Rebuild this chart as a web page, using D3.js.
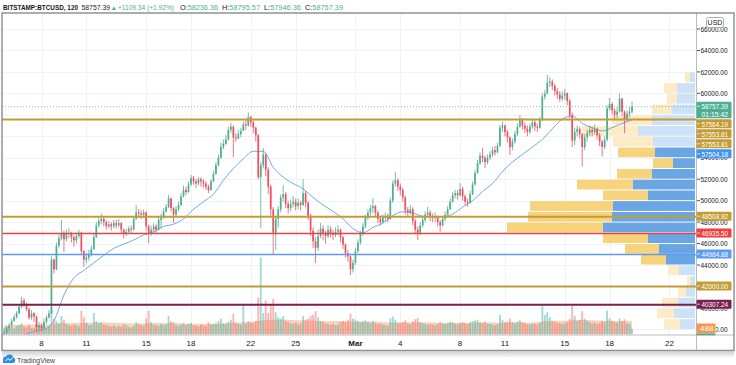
<!DOCTYPE html>
<html><head><meta charset="utf-8">
<script src="https://cdn.jsdelivr.net/npm/d3@7/dist/d3.min.js"></script>
<style>
html,body{margin:0;padding:0;background:#fff;overflow:hidden}
svg{display:block}
text{font-family:"Liberation Sans Narrow","Liberation Sans",Arial,sans-serif}
</style></head><body>
<svg id="chart" width="736" height="365"></svg>
<script>
// ---------------- DATA ----------------
const firstOpen = 37500;
const closes = [
37650,38100,38350,38800,39150,39500,40100,40700,40300,39900,
39100,39500,39200,38200,38400,38100,38700,39100,39500,44500,
43600,45800,46500,47000,46400,46900,47000,46600,46300,46700,
47000,45300,44500,44700,45000,45500,46600,47700,48100,48300,
48000,47600,47800,47600,47900,47700,47900,47300,46900,47100,
47400,47300,48300,48900,48800,48700,48900,47600,47000,47300,
47600,47300,48200,48400,49000,49400,50200,49300,48700,49200,
49600,50400,51000,50800,51500,52100,51800,51600,52000,51800,
51600,51300,51000,51800,52500,53300,54000,55000,55300,55700,
56600,56900,55900,55800,56200,56500,57100,57000,57800,57300,
56800,56100,52200,53300,54300,52900,51300,49200,47000,48300,
49200,50300,50600,49700,49300,49700,49900,49500,49800,49600,
50700,49800,48600,47200,46200,45600,46700,47400,47000,46700,
47300,47000,46800,47100,47300,46600,45900,45100,44800,43600,
44200,45300,46100,46900,47600,48400,48900,49300,49500,48900,
48300,48000,48400,48600,48300,50000,51600,51900,51300,51000,
50300,49100,48900,49200,48100,47300,47000,47700,48200,48700,
48900,48500,48400,48500,48000,47700,48300,48700,49200,49900,
50500,50700,50500,51100,50400,49900,49800,50600,51500,52600,
53500,54200,54000,53600,54000,54300,54700,54500,55100,56800,
57000,56400,55900,55000,55500,56200,56900,57500,57000,56700,
56400,56900,57300,56900,56800,57500,59700,60000,61000,61100,
60700,60200,59900,59500,59800,60000,59300,58000,55600,56400,
56700,56200,55000,55900,56300,56600,56400,56700,56100,55500,
55000,55700,58600,59000,58400,58000,58300,59500,58300,57600,
58100,58300,58757.39];
const highs = [
37900,38250,38600,39000,39400,39700,40300,41050,40900,40500,
40000,39800,39600,39300,38700,38600,39000,39300,39800,44800,
44600,46100,46800,48200,47200,47300,47420,47100,46800,47000,
47300,47100,45400,45100,45400,45800,46900,48000,48400,48820,
48600,48200,48100,48000,48200,48200,48300,48000,47400,47400,
47600,47700,48500,49600,49200,49100,49200,49000,47800,47700,
47900,47800,48500,48800,49300,49700,50530,50300,49400,49500,
49900,50700,51400,51300,51800,52400,52300,52000,52200,52200,
52000,51800,51500,52000,52800,53600,54300,55400,55700,56100,
56900,57240,57000,56300,56600,56800,57400,57500,58230,57900,
57500,56900,56200,53600,54900,54400,53100,51500,49400,48600,
49500,50600,51450,50800,50000,50100,50400,50200,50200,50000,
52000,50900,50000,48800,47500,46600,47300,47900,47700,47200,
47700,47600,47300,47500,47700,47400,46700,46000,45400,44900,
44500,45600,46400,47200,47900,48700,49200,49600,50240,49600,
49100,48600,48700,48900,48800,50300,51900,52700,52100,51600,
51200,50500,49400,49600,49400,48300,47600,48000,48500,49000,
49430,49100,48800,48900,48600,48200,48600,49000,49500,50200,
50800,51000,51000,51640,51300,50600,50200,50900,51800,52900,
53800,54500,54900,54200,54300,54600,55000,55100,55400,57100,
57360,57100,56600,56000,55800,56500,57200,57980,57700,57300,
57000,57200,57600,57500,57200,57800,60000,60300,61710,61500,
61300,60900,60500,60200,60200,60400,60100,59500,58200,56800,
57000,56900,56300,56200,56600,57000,56900,57100,56800,56300,
55700,56000,58900,59570,59200,58600,58700,60000,59600,58400,
58400,58700,59230];
const lows = [
37350,37600,37950,38200,38700,39000,39400,40000,40100,39700,
38900,38900,38700,37780,37900,37800,38000,38500,39000,39400,
43200,43500,45600,46300,45240,46200,46500,46100,45700,46000,
46500,44900,43840,44200,44400,44800,45400,46500,47500,47800,
47600,47300,47400,47200,47400,47400,47500,47000,46490,46700,
46900,47000,47200,48200,48400,48300,48400,47200,46020,46700,
47000,47000,47200,47400,48300,48900,49300,49000,47900,48500,
49000,49500,50300,50500,50700,51400,51500,51200,51400,51300,
51200,51000,50700,50900,51700,52400,53200,53900,54800,55200,
55600,56300,54070,55500,55700,55900,56500,56600,56900,56900,
56300,55500,52000,47450,53000,52300,50600,48600,44930,45400,
47500,48900,49900,49300,48800,49000,49400,49100,49200,49100,
49500,49400,48200,46700,45600,44190,45300,46500,46300,46000,
46500,46600,46300,46600,46800,46100,45500,44700,44300,43070,
43300,44000,45100,45900,46700,47400,48200,48600,48800,48500,
47900,47700,47900,48100,48000,48200,49800,51300,50900,50500,
49900,48700,48400,48700,47700,46900,46330,46800,47500,48000,
48400,48100,48000,48000,47600,47100,47600,48100,48600,49100,
49800,50200,50100,50400,50000,49600,49430,49700,50500,51400,
52500,53300,53600,53040,53400,53800,54100,54200,54400,55000,
56400,56000,55400,54250,54700,55300,56000,56800,56600,56300,
56000,56200,56700,56500,56400,56700,57400,59400,59900,60600,
60300,59800,59500,59200,59300,59400,58900,57700,55000,55200,
56000,55800,53170,54700,55500,56000,56000,56200,55700,55100,
54100,54800,55500,58400,58000,57600,57700,58200,57900,56300,
57400,57800,58100];
const volumes = [
1100,1300,900,1200,1000,1400,1500,1800,1300,1200,
1600,1100,1000,1700,1400,1200,900,1100,1300,4200,
2600,2200,1800,3000,2400,1700,1500,1400,1600,1500,
1300,3900,2800,1900,1500,1600,3500,2200,1800,2000,
1600,1500,1400,1300,1500,1200,1400,1300,1600,1500,
1200,1100,1400,2000,1700,1500,1400,2600,3900,2000,
1600,1500,1400,1700,1500,1600,3000,2200,2000,1500,
1400,1600,1800,1500,1700,1900,1500,1400,1300,1600,
1500,1400,2000,1600,1700,1800,2200,2600,1800,1700,
2100,2400,3400,1900,1700,1600,5000,1700,2100,1900,
1800,2200,6000,12500,3500,5500,3500,4800,5800,3600,
2800,2600,3000,2200,2000,1800,1700,1900,1600,1800,
3000,2400,2600,3000,3200,3800,2800,2200,2000,1800,
1700,1600,1700,1500,1600,2000,2200,2000,2400,3400,
2600,2400,2200,2000,2100,2300,2000,1800,2200,1900,
1700,1800,1600,1500,1400,2600,2900,2400,1900,1800,
2000,2300,1800,1700,2200,2500,2700,2000,1800,1700,
1600,1700,1600,1500,1700,2000,1800,1700,1900,2100,
2000,1800,1700,1900,2000,1800,1700,2000,2200,2300,
2400,2000,1900,2100,1800,1700,1600,1500,1700,3200,
2400,2000,2100,2600,2000,1800,2100,2300,2000,1800,
1700,1600,1800,1700,1600,1900,4800,3200,3600,2800,
2200,2000,1900,1800,1700,1800,2000,2600,4700,3000,
2200,2400,3800,2600,2200,2000,1800,1900,1700,1800,
2200,2000,3900,2600,2200,2000,1900,2600,2200,2500,
1800,1700,900];
// moving average of price, one value per 4 candles (null = below the pane)
const priceMA = [
null,null,37450,37800,38000,38800,41200,42800,43500,44200,
44900,45550,45950,46330,46800,47100,47600,47800,48300,49200,
49900,50600,51900,53000,53900,54600,54600,53100,52200,51600,
51100,50300,49600,49000,48300,47400,47000,47500,47900,48600,
48970,48850,48550,48500,48500,48750,49400,50000,50850,51600,
52700,53600,54300,55000,55700,56700,57600,57900,57200,56800,
56500,56800,57200,57520];
// moving average of volume, one value per 4 candles
const volumeMA = [
1500,1550,1600,1600,1600,1750,1850,1850,1900,1950,
1950,1900,1850,1800,1800,1850,1850,1850,1800,1750,
1750,1750,1800,1900,2000,2100,2300,2400,2400,2350,
2300,2250,2200,2200,2150,2100,2100,2100,2000,1950,
2000,2000,2000,1950,1850,1850,1850,1900,1950,1950,
1950,2000,2000,1950,2100,2250,2250,2300,2350,2300,
2250,2250,2200,2200];
// visible range volume profile (1000 USD rows)
const profileLow  = [38000,39000,40000,41000,42000,43000,44000,45000,46000,47000,48000,49000,50000,51000,52000,53000,54000,55000,56000,57000,58000,59000,60000,61000];
const profileDown = [160,170,160,80,40,110,250,340,450,960,840,830,450,560,350,200,370,400,560,400,200,100,130,50];
const profileUp   = [150,210,170,90,40,160,290,360,470,920,830,820,470,620,430,220,400,420,570,430,230,180,180,50];
const valueArea = [44000, 54000];
const levelPrices = [57564.19, 48508.92, 46935.50, 44984.88, 42000.00, 40307.24];
const levelKinds  = ["gold","gold","red","blue","gold","maroon"];
const extraBadgePrices = [57553.81, 57553.81, 57504.18];
const extraBadgeKinds  = ["gold","gold","blue2"];
const lastPrice = 58757.39, countdown = "01:15:42", lastVolLabel = "488";
const headerSymbol = "BITSTAMP:BTCUSD, 120", headerChange = "+1109.34 (+1.92%)";
const ohlcLabels = ["O:","H:","L:","C:"];
const ohlcValues = ["58236.36","58795.57","57946.36","58757.39"];
const priceTicks = [38000,40000,42000,44000,46000,48000,50000,52000,54000,56000,58000,60000,62000,64000,66000];
const dateTicks = ["2021-02-08","2021-02-11","2021-02-15","2021-02-18","2021-02-22","2021-02-25","2021-03-01","2021-03-04","2021-03-08","2021-03-11","2021-03-15","2021-03-18","2021-03-22"];
const dateLabels = ["8","11","15","18","22","25","Mar","4","8","11","15","18","22"];

// ---------------- STYLE ----------------
const UP="#4fae92", DOWN="#ee5060", TEAL="#4fae92";
const COL={gold:"#c49c36", red:"#f0403c", blue:"#5b9cf0", blue2:"#4394ee", maroon:"#7b1f4f"};
const LW={gold:2, red:1.5, blue:1.5, blue2:1.5, maroon:2};
const L=2, R=696, T=13, B=334.5, RIGHT=734, BOTTOM=350.5;

const svg=d3.select("#chart");
const defs=svg.append("defs");
defs.append("clipPath").attr("id","plot").append("rect").attr("x",L).attr("y",T).attr("width",R-L).attr("height",B-T);
defs.append("clipPath").attr("id","volbadge").append("rect").attr("x",716).attr("y",318).attr("width",20).attr("height",20);
const g=defs.append("linearGradient").attr("id","shadow").attr("x1",0).attr("x2",0).attr("y1",0).attr("y2",1);
g.append("stop").attr("offset",0).attr("stop-color","#000").attr("stop-opacity",0.18);
g.append("stop").attr("offset",1).attr("stop-color","#000").attr("stop-opacity",0);

const x=d3.scaleUtc().domain([new Date(Date.UTC(2021,1,8)),new Date(Date.UTC(2021,2,22))]).range([41.5,669.4]);
const y=d3.scaleLinear().domain([38000,66000]).range([329.4,29]);
const yv=d3.scaleLinear().domain([0,13000]).range([B,B-80]);
const xp=d3.scaleLinear().domain([0,1880]).range([0,188]);

const STEP=4*3600*1000, START=Date.UTC(2021,1,5,12);
const candles=closes.map((c,i)=>{
  const o=i?closes[i-1]:firstOpen;
  return {t:new Date(START+i*STEP),o,c,h:Math.max(highs[i],o,c),l:Math.min(lows[i],o,c),v:volumes[i]};
});
const cw=(x(new Date(START+STEP))-x(new Date(START)));

svg.append("rect").attr("width",736).attr("height",365).attr("fill","#fff");

// grid
const grid=svg.append("g").attr("clip-path","url(#plot)");
grid.selectAll("line.h").data(priceTicks).enter().append("line")
  .attr("x1",L).attr("x2",R).attr("y1",d=>Math.round(y(d))+0.5).attr("y2",d=>Math.round(y(d))+0.5)
  .attr("stroke","#f0f2f5").attr("stroke-width",1);
const tickDates=dateTicks.map(s=>new Date(s+"T00:00:00Z"));
grid.selectAll("line.v").data(tickDates).enter().append("line")
  .attr("y1",T).attr("y2",B).attr("x1",d=>Math.round(x(d))+0.5).attr("x2",d=>Math.round(x(d))+0.5)
  .attr("stroke","#f0f2f5").attr("stroke-width",1);

const plot=svg.append("g").attr("clip-path","url(#plot)");

// volume profile
const prof=plot.append("g");
profileLow.forEach((p,i)=>{
  const inVA=p>=valueArea[0]&&p<=valueArea[1];
  const top=y(p+1000)+0.5, h=y(p)-y(p+1000)-1;
  const wu=xp(profileUp[i]), wd=xp(profileDown[i]);
  prof.append("rect").attr("x",R-1-wu).attr("y",top).attr("width",wu).attr("height",h)
    .attr("fill",inVA?"#6aa6e4":"#cde2f6");
  prof.append("rect").attr("x",R-1-wu-wd).attr("y",top).attr("width",wd).attr("height",h)
    .attr("fill",inVA?"#f6d37c":"#fdebc8");
});

// volume MA area
const vma=volumeMA.map((v,k)=>({t:candles[Math.min(k*4,candles.length-1)].t,v}));
plot.append("path").datum(vma)
  .attr("d",d3.area().x(d=>x(d.t)).y0(B).y1(d=>yv(d.v)).curve(d3.curveMonotoneX))
  .attr("fill","rgba(240,138,75,0.38)");
// volume bars
plot.append("g").selectAll("rect").data(candles).enter().append("rect")
  .attr("x",d=>x(d.t)-cw*0.38).attr("width",cw*0.76)
  .attr("y",d=>yv(d.v)).attr("height",d=>B-yv(d.v))
  .attr("fill",d=>d.c>=d.o?"rgba(38,166,154,0.42)":"rgba(239,83,80,0.42)");

// price MA
const pma=priceMA.map((v,k)=>({t:candles[Math.min(k*4,candles.length-1)].t,v}));
plot.append("path").datum(pma)
  .attr("d",d3.line().defined(d=>d.v!=null).x(d=>x(d.t)).y(d=>y(d.v)).curve(d3.curveMonotoneX))
  .attr("fill","none").attr("stroke","#6aa9f2").attr("stroke-width",1);

// candles
const cg=plot.append("g");
cg.selectAll("line").data(candles).enter().append("line")
  .attr("x1",d=>x(d.t)).attr("x2",d=>x(d.t)).attr("y1",d=>y(d.h)).attr("y2",d=>y(d.l))
  .attr("stroke",d=>d.c>=d.o?UP:DOWN).attr("stroke-width",0.8);
cg.selectAll("rect").data(candles).enter().append("rect")
  .attr("x",d=>x(d.t)-cw*0.34).attr("width",cw*0.68)
  .attr("y",d=>y(Math.max(d.o,d.c))).attr("height",d=>Math.max(1,Math.abs(y(d.o)-y(d.c))))
  .attr("fill",d=>d.c>=d.o?UP:DOWN);

// level lines
plot.selectAll("line.lvl").data(levelPrices).enter().append("line")
  .attr("x1",L).attr("x2",R).attr("y1",d=>y(d)).attr("y2",d=>y(d))
  .attr("stroke",(d,i)=>COL[levelKinds[i]]).attr("stroke-width",(d,i)=>LW[levelKinds[i]]);
plot.append("line").attr("x1",L).attr("x2",R).attr("y1",y(lastPrice)).attr("y2",y(lastPrice))
  .attr("stroke",TEAL).attr("stroke-opacity",0.75).attr("stroke-dasharray","1,2").attr("stroke-width",1);

// frame & separators
svg.append("line").attr("x1",R+0.5).attr("x2",R+0.5).attr("y1",T).attr("y2",BOTTOM).attr("stroke","#b8bcc4");
svg.append("line").attr("x1",L).attr("x2",RIGHT).attr("y1",B+0.5).attr("y2",B+0.5).attr("stroke","#b8bcc4");
svg.append("rect").attr("x",L).attr("y",T).attr("width",RIGHT-L).attr("height",BOTTOM-T)
  .attr("fill","none").attr("stroke","#8f9399").attr("stroke-width",1.5);
svg.append("rect").attr("x",L).attr("y",BOTTOM+1).attr("width",RIGHT-L).attr("height",7).attr("fill","url(#shadow)");

// badges layout (stacked like the price scale does)
const badges=[{p:lastPrice,kind:"last"}];
levelPrices.slice(0,1).forEach((p,i)=>badges.push({p,kind:levelKinds[i]}));
extraBadgePrices.forEach((p,i)=>badges.push({p,kind:extraBadgeKinds[i]}));
levelPrices.slice(1).forEach((p,i)=>badges.push({p,kind:levelKinds[i+1]}));
let prevBottom=-Infinity;
badges.forEach(b=>{
  b.h=b.kind==="last"?16.6:9;
  let top=y(b.p)-5;
  if(top<prevBottom+1) top=prevBottom+1;
  b.top=top; prevBottom=top+b.h;
});

// price axis labels (those entirely hidden behind a badge are not drawn)
const ax=svg.append("g");
priceTicks.forEach((p,idx)=>{
  const yy=y(p);
  const hidden=badges.some(b=>yy>=b.top+1.5&&yy<=b.top+b.h-1.5);
  ax.append("line").attr("x1",R+1).attr("x2",R+4).attr("y1",yy).attr("y2",yy).attr("stroke","#555");
  if(hidden) return;
  const t=ax.append("text").attr("x",700.5).attr("y",yy+2.7).attr("font-size",8).attr("fill","#131722")
    .attr("textLength",27).attr("lengthAdjust","spacingAndGlyphs").text(d3.format(".2f")(p));
  if(idx===0) t.attr("clip-path","url(#volbadge)"); // lowest label sits under the volume badge
});
ax.append("rect").attr("x",706.5).attr("y",17.5).attr("width",17).attr("height",10).attr("rx",2)
  .attr("fill","#fff").attr("stroke","#a9adb5");
ax.append("text").attr("x",715).attr("y",25).attr("text-anchor","middle").attr("font-size",7).attr("fill","#131722").text("USD");

// time axis labels
tickDates.forEach((d,i)=>{
  svg.append("text").attr("x",x(d)).attr("y",346).attr("text-anchor","middle").attr("font-size",8)
    .attr("font-weight",dateLabels[i]==="Mar"?"bold":"normal").attr("fill","#131722").text(dateLabels[i]);
});

// badges
const bg=svg.append("g");
badges.forEach(b=>{
  const fill=b.kind==="last"?TEAL:COL[b.kind];
  bg.append("rect").attr("x",R+0.5).attr("y",b.top).attr("width",35).attr("height",b.h).attr("rx",1).attr("fill",fill);
  bg.append("line").attr("x1",R+1).attr("x2",R+4).attr("y1",b.top+4.5).attr("y2",b.top+4.5).attr("stroke","#fff").attr("stroke-opacity",0.7);
  bg.append("text").attr("x",701.5).attr("y",b.top+7.3).attr("font-size",8).attr("fill","#fff")
    .attr("textLength",26.5).attr("lengthAdjust","spacingAndGlyphs").text(d3.format(".2f")(b.p));
  if(b.kind==="last"){
    bg.append("text").attr("x",701.5).attr("y",b.top+15).attr("font-size",8).attr("fill","#fff")
      .attr("textLength",26.5).attr("lengthAdjust","spacingAndGlyphs").text(countdown);
  }
});
bg.append("rect").attr("x",R+0.5).attr("y",323.5).attr("width",19).attr("height",10).attr("rx",1).attr("fill","#f5984f");
bg.append("rect").attr("x",R+0.5).attr("y",333.5).attr("width",19).attr("height",1.8).attr("fill",TEAL);
bg.append("text").attr("x",700).attr("y",331.2).attr("font-size",8).attr("fill","#fff").text(lastVolLabel);

// header
function htext(xx,w,bold){
  return svg.append("text").attr("x",xx).attr("y",10.2).attr("font-size",7.6)
    .attr("font-weight",bold?"bold":"normal").attr("textLength",w).attr("lengthAdjust","spacingAndGlyphs");
}
htext(3,75,true).attr("fill","#131722").text(headerSymbol);
htext(81.5,28.5,false).attr("fill","#131722").text(d3.format(".2f")(lastPrice));
svg.append("path").attr("d","M111.8,10 L116,10 L113.9,6.4 Z").attr("fill",TEAL);
htext(118,56,false).attr("fill",TEAL).text(headerChange);
const ohlcX=[180,222,264,305];
ohlcLabels.forEach((lab,i)=>{
  const t=htext(ohlcX[i],lab==="L:"?37:38,false);
  t.append("tspan").attr("fill","#131722").text(lab);
  t.append("tspan").attr("fill",TEAL).text(ohlcValues[i]);
});

// footer logo
svg.append("path").attr("d","M3,363 L3,359.5 Q3,356.5 6,356.5 Q7,354 9.8,354.6 Q12.6,354.4 13,357.3 Q15.2,357.8 15.2,360.3 Q15.2,363 12.6,363 Z").attr("fill","#2f8fdd");
svg.append("path").attr("d","M5.5,361 L8,358.5 L10,360.3 L12.8,357.6").attr("fill","none").attr("stroke","#fff").attr("stroke-width",1);
svg.append("text").attr("x",17).attr("y",362.6).attr("font-size",8).attr("fill","#3b3f45")
  .attr("textLength",38).attr("lengthAdjust","spacingAndGlyphs").text("TradingView");
</script></body></html>
